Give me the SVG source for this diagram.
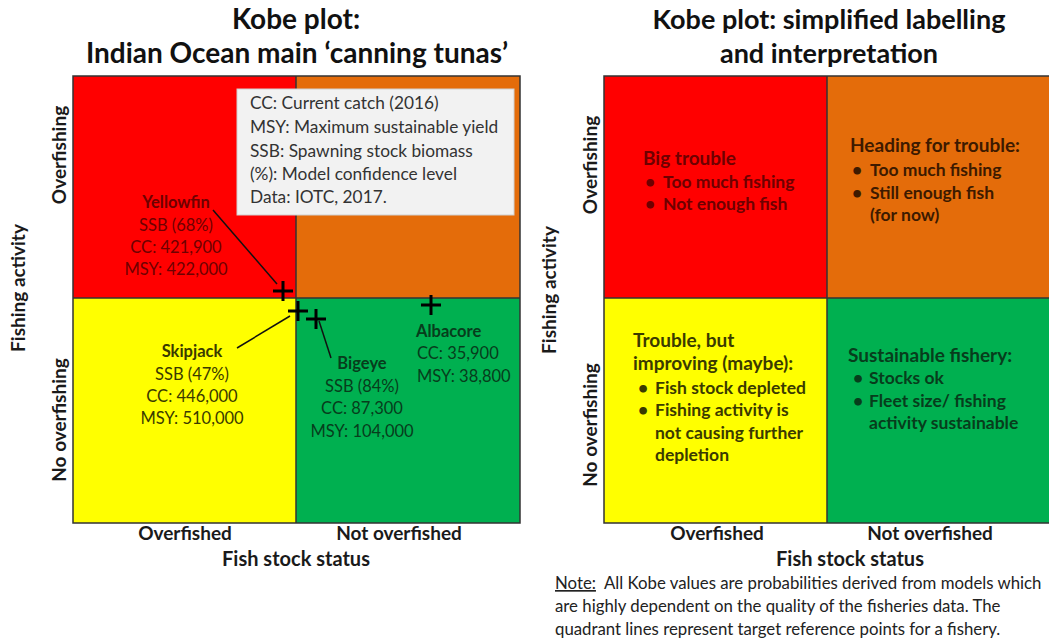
<svg xmlns="http://www.w3.org/2000/svg" width="1049" height="644" viewBox="0 0 1049 644">
<style>
text{font-family:Lato,"Open Sans","Liberation Sans",sans-serif;}
.title{font-size:28px;font-weight:bold;fill:#111;text-anchor:middle;}
.axis{font-size:19px;font-weight:bold;fill:#1a1a1a;text-anchor:middle;}
.lab{font-size:16.5px;fill:#222;}
.leg{font-size:17.3px;fill:#333;}
.qt{font-size:17.5px;font-weight:bold;}
.qh{font-size:19px;font-weight:bold;}
.b{font-weight:bold;}
.c{text-anchor:middle;}
.q{stroke:#333;stroke-width:1.5;}
.lead{stroke:#111;stroke-width:1.5;fill:none;}
.tr{fill:#6e0000;}
.to{fill:#3d1a00;}
.ty{fill:#3a3a00;}
.tg{fill:#073d1c;}
.note{font-size:16.8px;fill:#222;}
</style>
<defs>
<path id="plus" d="M-10 0H10M0 -10V10" stroke="#000" stroke-width="3" fill="none"/>
</defs>
<rect width="1049" height="644" fill="#fff"/>

<g id="left-plot">
  <text class="title" x="296" y="29">Kobe plot:</text>
  <text class="title" x="297" y="63">Indian Ocean main ‘canning tunas’</text>
  <g id="L-quadrants">
    <rect x="73" y="76" width="223" height="222" fill="#FF0000"/>
    <rect x="296" y="76" width="224" height="222" fill="#E46C0A"/>
    <rect x="73" y="298" width="223" height="225" fill="#FFFF00"/>
    <rect x="296" y="298" width="224" height="225" fill="#00B050"/>
    <rect x="73" y="76" width="447" height="447" fill="none" class="q"/>
    <line x1="296" y1="76" x2="296" y2="523" class="q"/>
    <line x1="73" y1="298" x2="520" y2="298" class="q"/>
  </g>
  <g id="legend">
    <rect x="237" y="89" width="277" height="126" fill="#F2F2F2" stroke="#d0d0d0" stroke-width="1"/>
    <text class="leg" x="250" y="109">CC: Current catch (2016)</text>
    <text class="leg" x="250" y="133">MSY: Maximum sustainable yield</text>
    <text class="leg" x="250" y="157">SSB: Spawning stock biomass</text>
    <text class="leg" x="250" y="180">(%): Model confidence level</text>
    <text class="leg" x="250" y="203">Data: IOTC, 2017.</text>
  </g>
  <g id="connectors">
    <line x1="213" y1="210" x2="277" y2="284" class="lead"/>
    <line x1="237" y1="348" x2="290" y2="316" class="lead"/>
    <line x1="319" y1="321" x2="331" y2="358" class="lead"/>
  </g>
  <g id="yellowfin">
    <use href="#plus" x="283" y="291"/>
    <text class="lab c tr b" x="176" y="208">Yellowfin</text>
    <text class="lab c tr" x="176" y="231">SSB (68%)</text>
    <text class="lab c tr" x="176" y="253">CC: 421,900</text>
    <text class="lab c tr" x="176" y="275">MSY: 422,000</text>
  </g>
  <g id="skipjack">
    <use href="#plus" x="298" y="311"/>
    <text class="lab c ty b" x="192" y="357">Skipjack</text>
    <text class="lab c ty" x="192" y="380">SSB (47%)</text>
    <text class="lab c ty" x="192" y="402">CC: 446,000</text>
    <text class="lab c ty" x="192" y="424">MSY: 510,000</text>
  </g>
  <g id="bigeye">
    <use href="#plus" x="316" y="319"/>
    <text class="lab c tg b" x="362" y="369">Bigeye</text>
    <text class="lab c tg" x="362" y="392">SSB (84%)</text>
    <text class="lab c tg" x="362" y="414">CC: 87,300</text>
    <text class="lab c tg" x="362" y="437">MSY: 104,000</text>
  </g>
  <g id="albacore">
    <use href="#plus" x="431" y="305"/>
    <text class="lab tg b" x="416" y="337">Albacore</text>
    <text class="lab tg" x="417" y="359">CC: 35,900</text>
    <text class="lab tg" x="417" y="382">MSY: 38,800</text>
  </g>
  <g id="L-axes">
    <text class="axis" transform="translate(66,155) rotate(-90)">Overfishing</text>
    <text class="axis" transform="translate(66,420) rotate(-90)">No overfishing</text>
    <text class="axis" transform="translate(25,288) rotate(-90)">Fishing activity</text>
    <text class="axis" x="185" y="540">Overfished</text>
    <text class="axis" x="399" y="540">Not overfished</text>
    <text class="axis" x="296" y="566" style="font-size:20px">Fish stock status</text>
  </g>
</g>

<g id="right-plot">
  <text class="title" x="829" y="29" style="font-size:27px">Kobe plot: simplified  labelling</text>
  <text class="title" x="829" y="63" style="font-size:27px">and interpretation</text>
  <g id="R-quadrants">
    <rect x="604" y="76" width="223" height="222" fill="#FF0000"/>
    <rect x="827" y="76" width="226" height="222" fill="#E46C0A"/>
    <rect x="604" y="298" width="223" height="225" fill="#FFFF00"/>
    <rect x="827" y="298" width="226" height="225" fill="#00B050"/>
    <rect x="604" y="76" width="449" height="447" fill="none" class="q"/>
    <line x1="827" y1="76" x2="827" y2="523" class="q"/>
    <line x1="604" y1="298" x2="1053" y2="298" class="q"/>
  </g>
  <g id="big-trouble">
    <text class="qh tr" x="643" y="165">Big trouble</text>
    <text class="qt tr" x="645" y="188">•</text>
    <text class="qt tr" x="663" y="188">Too much fishing</text>
    <text class="qt tr" x="645" y="210">•</text>
    <text class="qt tr" x="663" y="210">Not enough fish</text>
  </g>
  <g id="heading-for-trouble">
    <text class="qh to" x="850" y="152">Heading for trouble:</text>
    <text class="qt to" x="852" y="176">•</text>
    <text class="qt to" x="870" y="176">Too much fishing</text>
    <text class="qt to" x="852" y="199">•</text>
    <text class="qt to" x="870" y="199">Still enough fish</text>
    <text class="qt to" x="870" y="221">(for now)</text>
  </g>
  <g id="trouble-improving">
    <text class="qh ty" x="633" y="347">Trouble, but</text>
    <text class="qh ty" x="633" y="370">improving (maybe):</text>
    <text class="qt ty" x="638" y="394">•</text>
    <text class="qt ty" x="655" y="394">Fish stock depleted</text>
    <text class="qt ty" x="638" y="416">•</text>
    <text class="qt ty" x="655" y="416">Fishing activity is</text>
    <text class="qt ty" x="655" y="439">not causing further</text>
    <text class="qt ty" x="655" y="461">depletion</text>
  </g>
  <g id="sustainable">
    <text class="qh tg" x="848" y="362">Sustainable fishery:</text>
    <text class="qt tg" x="853" y="384">•</text>
    <text class="qt tg" x="869" y="384">Stocks ok</text>
    <text class="qt tg" x="853" y="407">•</text>
    <text class="qt tg" x="869" y="407">Fleet size/ fishing</text>
    <text class="qt tg" x="869" y="429">activity sustainable</text>
  </g>
  <g id="R-axes">
    <text class="axis" transform="translate(597,165) rotate(-90)">Overfishing</text>
    <text class="axis" transform="translate(597,425) rotate(-90)">No overfishing</text>
    <text class="axis" transform="translate(556,290) rotate(-90)">Fishing activity</text>
    <text class="axis" x="717" y="540">Overfished</text>
    <text class="axis" x="930" y="540">Not overfished</text>
    <text class="axis" x="850" y="566" style="font-size:20px">Fish stock status</text>
  </g>
  <g id="note">
    <text class="note" x="555" y="589"><tspan text-decoration="underline">Note:</tspan>&#160; All Kobe values are probabilities derived from models which</text>
    <text class="note" x="555" y="612">are highly dependent on the quality of the fisheries data. The</text>
    <text class="note" x="555" y="635">quadrant lines represent target reference points for a fishery.</text>
  </g>
</g>
</svg>
